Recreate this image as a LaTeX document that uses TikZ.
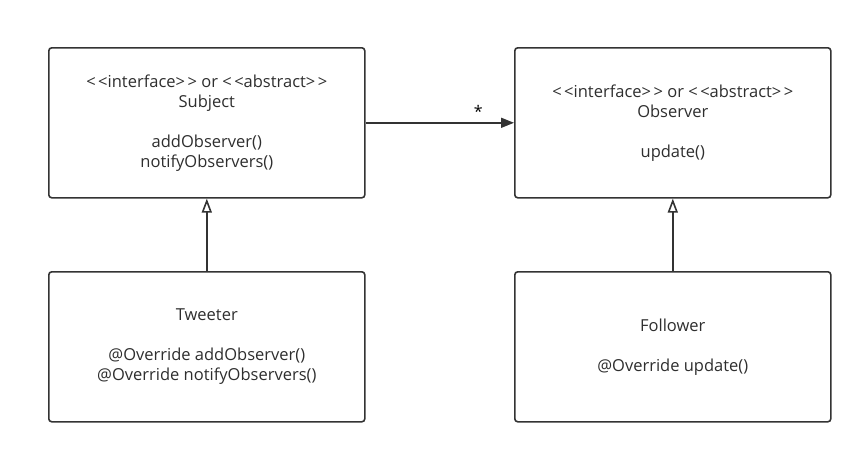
\documentclass[tikz,border=0pt]{standalone}
\usepackage{fontspec}
\setmainfont{Open Sans}
\usetikzlibrary{arrows.meta}
% angle brackets kept apart so they are not merged into guillemets
\newcommand{\stereo}[1]{<\kern2.5pt<#1>\kern2.5pt>}
\begin{document}
\begin{tikzpicture}[x=1pt,y=-1pt,
  classbox/.style={draw=black!80, line width=1.6pt, rounded corners=3pt,
    minimum width=316pt, minimum height=150pt, align=center,
    font=\fontsize{16.5pt}{20pt}\selectfont, text=black!82, anchor=north west},
  link/.style={draw=black!80, line width=1.6pt},
  inherit/.style={link, -{Triangle[open, length=14pt, width=10pt, line width=1.6pt]}},
  assoc/.style={link, -{Triangle[length=13pt, width=10pt]}}]
\useasboundingbox (0,0) rectangle (862,453);
\node[classbox] (subject) at (48,47) {\stereo{interface} or \stereo{abstract}\\Subject\\[20pt]addObserver()\\notifyObservers()};
\node[classbox] (observer) at (514,47) {\stereo{interface} or \stereo{abstract}\\Observer\\[20pt]update()};
\node[classbox] (tweeter) at (48,271) {Tweeter\\[20pt]@Override addObserver()\\@Override notifyObservers()};
\node[classbox] (follower) at (514,271) {Follower\\[20pt]@Override update()};
\draw[assoc] (subject.east) -- node[pos=0.76, above=1pt, font=\fontsize{16pt}{16pt}\selectfont] (mult) {*} (observer.west);
\draw[inherit] (tweeter.north) -- (subject.south);
\draw[inherit] (follower.north) -- (observer.south);
\end{tikzpicture}
\end{document}
